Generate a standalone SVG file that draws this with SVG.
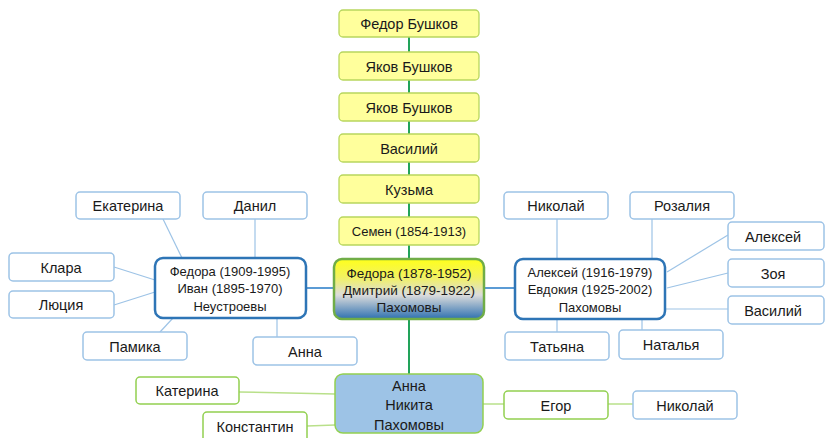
<svg xmlns="http://www.w3.org/2000/svg" width="825" height="438" viewBox="0 0 825 438">
<defs>
<linearGradient id="cg" x1="0" y1="0" x2="0" y2="1">
<stop offset="0" stop-color="#ffff1a"/>
<stop offset="0.3" stop-color="#f2f260"/>
<stop offset="0.6" stop-color="#dcdcdc"/>
<stop offset="1" stop-color="#2e70b0"/>
</linearGradient>
<style>
text{font-family:"Liberation Sans",Arial,sans-serif;font-size:14.5px;fill:#1a1a1a;text-anchor:middle}
.s{font-size:13px}
.anc{fill:#ffff9c;stroke:#b8d65e;stroke-width:1.3}
.leaf{fill:#ffffff;stroke:#9dc3e6;stroke-width:1.5}
.gleaf{fill:#ffffff;stroke:#92d050;stroke-width:1.5}
.fam{fill:#ffffff;stroke:#2e75b6;stroke-width:2.5}
.trunk{stroke:#22a35a;stroke-width:2;fill:none}
.bl{stroke:#9dc3e6;stroke-width:1.2;fill:none}
.bm{stroke:#5b9bd5;stroke-width:2;fill:none}
.gl{stroke:#b9e08a;stroke-width:1.5;fill:none}
</style>
</defs>
<g id="connectors">
<line class="trunk" x1="409" y1="37" x2="409" y2="374"/>
<line class="bm" x1="306" y1="288" x2="333" y2="288"/>
<line class="bm" x1="485" y1="288" x2="515" y2="288"/>
<line class="bl" x1="163" y1="219" x2="182" y2="258"/>
<line class="bl" x1="255" y1="219" x2="255" y2="258"/>
<line class="bl" x1="114" y1="267" x2="155" y2="280"/>
<line class="bl" x1="114" y1="305" x2="155" y2="292"/>
<line class="bl" x1="160" y1="332" x2="173" y2="318"/>
<line class="bl" x1="277" y1="318" x2="277" y2="337"/>
<line class="bl" x1="557" y1="219" x2="557" y2="259"/>
<line class="bl" x1="652" y1="219" x2="652" y2="259"/>
<line class="bl" x1="728" y1="235" x2="667" y2="272"/>
<line class="bl" x1="728" y1="273" x2="667" y2="288"/>
<line class="bl" x1="665" y1="309" x2="728" y2="309"/>
<line class="bl" x1="557" y1="319" x2="557" y2="332"/>
<line class="bl" x1="642" y1="319" x2="642" y2="330"/>
<line class="gl" x1="239" y1="392" x2="335" y2="394"/>
<line class="gl" x1="307" y1="426" x2="335" y2="425"/>
<line class="gl" x1="483" y1="404" x2="504" y2="404"/>
<line class="gl" x1="608" y1="404" x2="633" y2="404"/>
</g>
<g id="n1"><rect class="anc" x="339" y="10" width="140" height="27" rx="4"/><text x="409" y="28.5">Федор Бушков</text></g>
<g id="n2"><rect class="anc" x="339" y="52" width="140" height="28" rx="4"/><text x="409" y="71.5">Яков Бушков</text></g>
<g id="n3"><rect class="anc" x="339" y="93" width="140" height="28" rx="4"/><text x="409" y="112.5">Яков Бушков</text></g>
<g id="n4"><rect class="anc" x="339" y="134" width="140" height="28" rx="4"/><text x="409" y="153.5">Василий</text></g>
<g id="n5"><rect class="anc" x="339" y="175" width="140" height="28" rx="4"/><text x="409" y="194.5">Кузьма</text></g>
<g id="n6"><rect class="anc" x="339" y="217" width="140" height="28" rx="4"/><text x="409" y="236" class="s">Семен (1854-1913)</text></g>
<g id="center"><rect x="334" y="259" width="150" height="60" rx="8" fill="url(#cg)" stroke="#70ad47" stroke-width="2.5"/>
<text x="409" y="278" style="font-size:13.5px">Федора (1878-1952)</text><text x="409" y="295" style="font-size:13.5px">Дмитрий (1879-1922)</text><text x="409" y="312" style="font-size:13.5px">Пахомовы</text></g>
<g id="left"><rect class="fam" x="155" y="258" width="151" height="60" rx="8"/>
<text x="230" y="276" class="s">Федора (1909-1995)</text><text x="230" y="293" class="s">Иван (1895-1970)</text><text x="230" y="311" class="s">Неустроевы</text></g>
<g id="right"><rect class="fam" x="515" y="259" width="150" height="60" rx="8"/>
<text x="590" y="277" class="s">Алексей (1916-1979)</text><text x="590" y="294" class="s">Евдокия (1925-2002)</text><text x="590" y="312" class="s">Пахомовы</text></g>
<g id="ekaterina"><rect class="leaf" x="76" y="192" width="104" height="27" rx="4"/><text x="128" y="210.5">Екатерина</text></g>
<g id="danil"><rect class="leaf" x="203" y="192" width="104" height="27" rx="4"/><text x="255" y="210.5">Данил</text></g>
<g id="klara"><rect class="leaf" x="9" y="253" width="105" height="28" rx="4"/><text x="61" y="272.5">Клара</text></g>
<g id="lyuciya"><rect class="leaf" x="9" y="291" width="105" height="27" rx="4"/><text x="61" y="310">Люция</text></g>
<g id="pamika"><rect class="leaf" x="83" y="332" width="104" height="28" rx="4"/><text x="135" y="351.5">Памика</text></g>
<g id="anna1"><rect class="leaf" x="253" y="337" width="104" height="28" rx="4"/><text x="305" y="356.5">Анна</text></g>
<g id="nikolay1"><rect class="leaf" x="504" y="192" width="104" height="27" rx="4"/><text x="556" y="210.5">Николай</text></g>
<g id="rozaliya"><rect class="leaf" x="630" y="192" width="104" height="27" rx="4"/><text x="682" y="210.5">Розалия</text></g>
<g id="aleksey"><rect class="leaf" x="728" y="222" width="96" height="28" rx="4"/><text x="773" y="241.5">Алексей</text></g>
<g id="zoya"><rect class="leaf" x="728" y="259" width="96" height="28" rx="4"/><text x="773" y="278.5">Зоя</text></g>
<g id="vasiliy"><rect class="leaf" x="728" y="296" width="96" height="28" rx="4"/><text x="773" y="315.5">Василий</text></g>
<g id="tatyana"><rect class="leaf" x="505" y="332" width="104" height="28" rx="4"/><text x="557" y="351.5">Татьяна</text></g>
<g id="natalya"><rect class="leaf" x="619" y="330" width="104" height="29" rx="4"/><text x="671" y="350">Наталья</text></g>
<g id="bottom"><rect x="335" y="374" width="148" height="59" rx="8" fill="#9dc3e6" stroke="#92d050" stroke-width="1.5"/>
<text x="409" y="391">Анна</text><text x="409" y="410">Никита</text><text x="409" y="430">Пахомовы</text></g>
<g id="katerina"><rect class="gleaf" x="136" y="377" width="103" height="27" rx="4"/><text x="187" y="395.5">Катерина</text></g>
<g id="konstantin"><rect class="gleaf" x="203" y="412" width="104" height="30" rx="4"/><text x="255" y="432">Константин</text></g>
<g id="egor"><rect class="gleaf" x="504" y="391" width="104" height="28" rx="4"/><text x="556" y="410.5">Егор</text></g>
<g id="nikolay2"><rect class="leaf" x="633" y="391" width="104" height="28" rx="4"/><text x="685" y="410.5">Николай</text></g>
</svg>
